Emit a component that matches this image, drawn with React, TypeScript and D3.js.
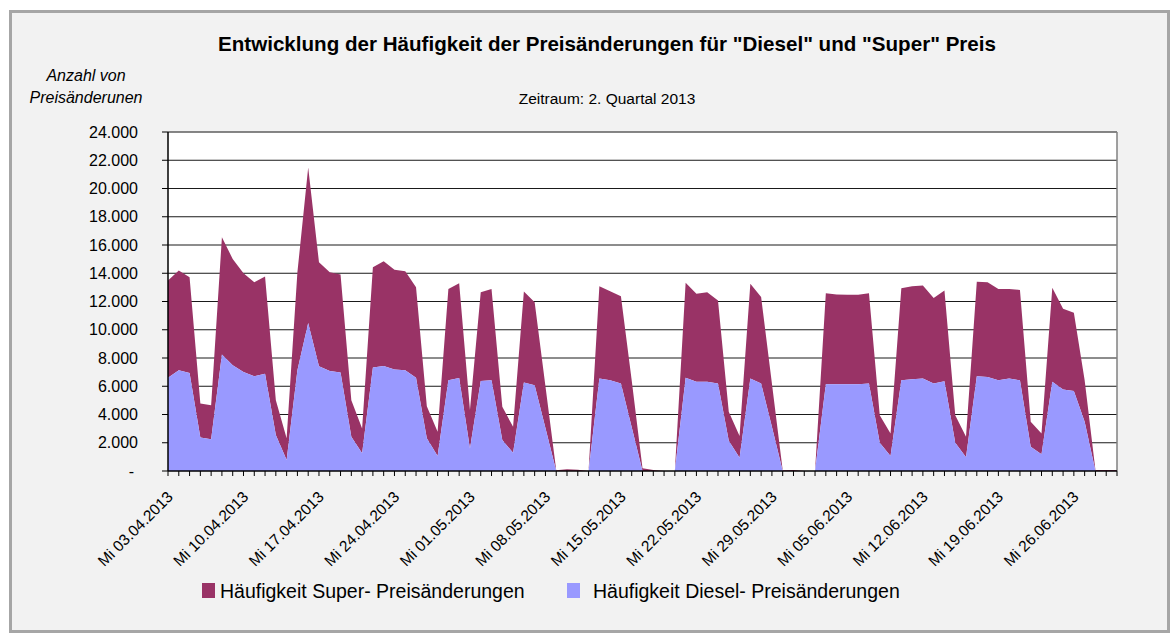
import React from "react";
import * as d3 from "d3";

const startDate = new Date(2013, 3, 3);
const endDate = new Date(2013, 5, 30);
const categories: Date[] = d3.timeDay.range(startDate, d3.timeDay.offset(endDate, 1));

// total (top of stack) values
const totalValues = [
  13480, 14190, 13720, 4780, 4660, 16540, 15010, 14000, 13370, 13770,
  5010, 2310, 14070, 21480, 14780, 14070, 13910, 5010, 3010, 14420,
  14850, 14240, 14140, 13010, 4590, 2780, 12890, 13300, 4310, 12660,
  12890, 4540, 3130, 12710, 11950, 6000, 50, 120, 80, 0,
  13080, 12730, 12380, 6400, 190, 70, 0, 0, 13320, 12540,
  12660, 12070, 4190, 2470, 13250, 12310, 6200, 50, 70, 0,
  0, 12590, 12490, 12470, 12470, 12590, 3950, 2660, 12940, 13080,
  13130, 12240, 12780, 3950, 2420, 13390, 13370, 12890, 12890, 12820,
  3480, 2660, 12970, 11480, 11200, 6420, 70, 70, 70,
];

const dieselValues = [
  6610, 7130, 6940, 2380, 2240, 8240, 7480, 7010, 6710, 6890,
  2540, 780, 7130, 10470, 7410, 7080, 6970, 2420, 1250, 7320,
  7440, 7180, 7130, 6610, 2310, 1060, 6420, 6590, 1600, 6380,
  6420, 2190, 1290, 6260, 6070, 3050, 0, 0, 0, 0,
  6540, 6420, 6190, 3100, 0, 0, 0, 0, 6610, 6310,
  6310, 6190, 2140, 940, 6540, 6190, 3130, 0, 0, 0,
  0, 6140, 6140, 6140, 6140, 6190, 2000, 1060, 6420, 6490,
  6540, 6190, 6350, 2000, 970, 6710, 6660, 6420, 6540, 6420,
  1720, 1180, 6310, 5770, 5670, 3480, 0, 0, 0,
];

const superValues = totalValues.map((t, i) => t - dieselValues[i]);

const yTicks = [0, 2000, 4000, 6000, 8000, 10000, 12000, 14000, 16000, 18000, 20000, 22000, 24000];
const xTickLabels = [
  "Mi 03.04.2013", "Mi 10.04.2013", "Mi 17.04.2013", "Mi 24.04.2013", "Mi 01.05.2013",
  "Mi 08.05.2013", "Mi 15.05.2013", "Mi 22.05.2013", "Mi 29.05.2013", "Mi 05.06.2013",
  "Mi 12.06.2013", "Mi 19.06.2013", "Mi 26.06.2013",
];
const seriesNames = ["Häufigkeit Super- Preisänderungen", "Häufigkeit Diesel- Preisänderungen"];

const SUPER = "#993366";
const DIESEL = "#9999FF";
const FONT = "'Liberation Sans', Arial, sans-serif";

export default function App() {
  const W = 1173, H = 634;
  const left = 168, right = 1117, top = 132, bottom = 471;
  const x = d3.scalePoint<number>().domain(d3.range(categories.length)).range([left, right]);
  const y = d3.scaleLinear().domain([0, 24000]).range([bottom, top]);

  const dieselArea = d3.area<number>()
    .x((_, i) => x(i)!)
    .y0(() => y(0))
    .y1((d) => y(d));
  const superArea = d3.area<number>()
    .x((_, i) => x(i)!)
    .y0((_, i) => y(dieselValues[i]))
    .y1((d, i) => y(d + dieselValues[i]));

  const fmt = (v: number) => (v === 0 ? "-" : d3.format(",")(v).replace(/,/g, "."));

  return (
    <svg width={W} height={H} style={{ position: "absolute", left: 0, top: 0, fontFamily: FONT }}>
      <rect x={0} y={0} width={W} height={H} fill="#ffffff" />
      <rect x={10.5} y={11.5} width={1158} height={620} fill="#f2f2f2" stroke="#a6a6a6" strokeWidth={3} />
      <text x={607} y={51} textAnchor="middle" fontSize={20.5} fontWeight="bold" fill="#000" textLength={778} lengthAdjust="spacingAndGlyphs">
        Entwicklung der Häufigkeit der Preisänderungen für "Diesel" und "Super" Preis
      </text>
      <text x={607} y={104} textAnchor="middle" fontSize={15.5} fill="#000">
        Zeitraum: 2. Quartal 2013
      </text>
      <text x={86} y={81} textAnchor="middle" fontSize={16} fontStyle="italic" fill="#000">Anzahl von</text>
      <text x={86} y={103} textAnchor="middle" fontSize={16} fontStyle="italic" fill="#000">Preisänderunen</text>

      <rect x={left} y={top} width={right - left} height={bottom - top} fill="#ffffff" />
      {yTicks.map((t) => (
        <g key={t}>
          {t > 0 && <line x1={left} x2={right} y1={y(t)} y2={y(t)} stroke="#1a1a1a" strokeWidth={1} />}
          <line x1={left - 6} x2={left} y1={y(t)} y2={y(t)} stroke="#000" strokeWidth={1} />
          <text x={t === 0 ? 134 : 138} y={y(t) + 5.5} textAnchor="end" fontSize={16} fill="#000">{fmt(t)}</text>
        </g>
      ))}
      <path d={superArea(superValues) ?? ""} fill={SUPER} />
      <path d={dieselArea(dieselValues) ?? ""} fill={DIESEL} />
      <line x1={right} x2={right} y1={top} y2={bottom} stroke="#808080" strokeWidth={1.5} />
      <line x1={left} x2={right} y1={top} y2={top} stroke="#808080" strokeWidth={1} />
      <line x1={left} x2={left} y1={top} y2={bottom} stroke="#000" strokeWidth={1.5} />
      <line x1={left} x2={right} y1={bottom} y2={bottom} stroke="#000" strokeWidth={1.5} />
      {categories.map((_, i) => (
        <line key={i} x1={x(i)} x2={x(i)} y1={bottom} y2={bottom + 5} stroke="#000" strokeWidth={1} />
      ))}
      {xTickLabels.map((lab, k) => {
        const px = x(k * 7)! + 2;
        const py = bottom + 23;
        return (
          <text key={lab} transform={`translate(${px},${py}) rotate(-45)`} textAnchor="end" fontSize={15.5} fill="#000" dy="0.35em">
            {lab}
          </text>
        );
      })}
      <rect x={202} y={583} width={13} height={15} fill={SUPER} />
      <text x={220} y={598} fontSize={19.5} fill="#000">{seriesNames[0]}</text>
      <rect x={567} y={583} width={13} height={15} fill={DIESEL} />
      <text x={593} y={598} fontSize={19.5} fill="#000">{seriesNames[1]}</text>
    </svg>
  );
}
